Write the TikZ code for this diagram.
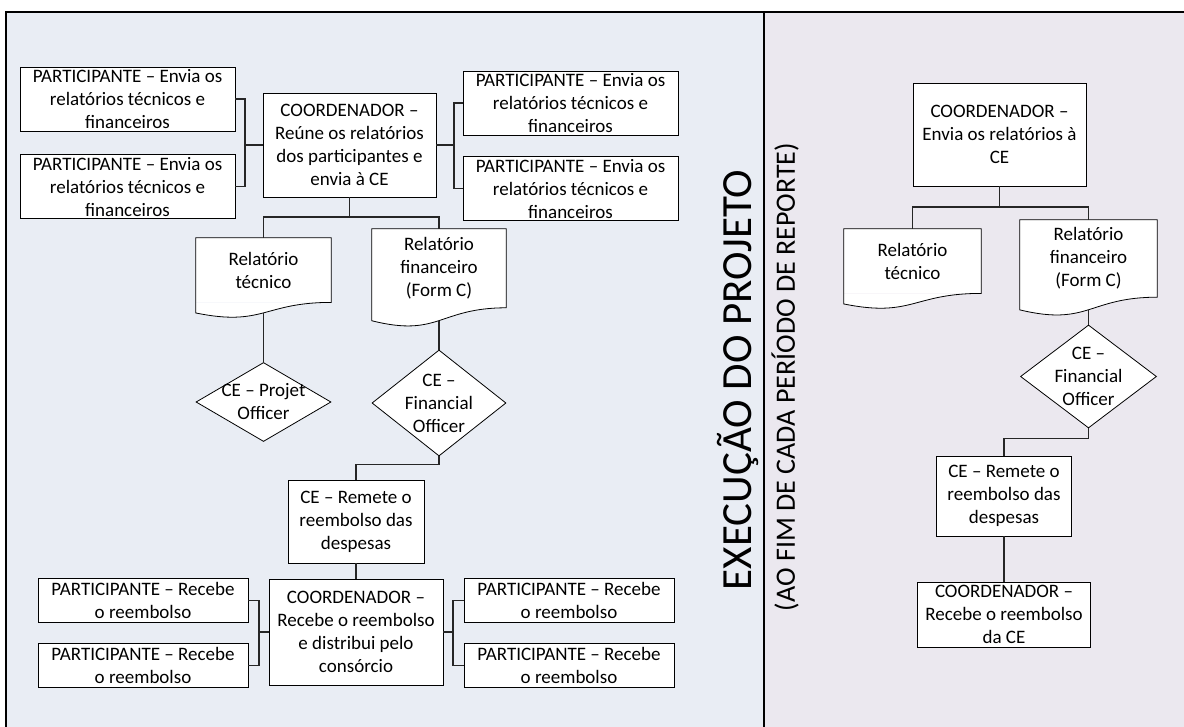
\documentclass[tikz,border=0pt]{standalone}
\usepackage{fontspec}
\setmainfont{Carlito}
\usepackage{tikz}
\usetikzlibrary{positioning, shapes.geometric, calc}

\definecolor{leftbg}{RGB}{233,237,244}
\definecolor{rightbg}{RGB}{235,232,239}
\newcommand{\boxfont}{\fontsize{19}{23}\selectfont}

\begin{document}
\begin{tikzpicture}[x=1pt, y=-1pt,
    every node/.style={font=\boxfont},
    box/.style={rectangle, draw, fill=white, align=center, inner sep=0pt, line width=0.8pt},
    part/.style={box, minimum width=215pt, minimum height=64pt},
    recv/.style={box, minimum width=210pt, minimum height=44pt},
    doc/.style={rectangle, fill=white, align=center, inner sep=0pt},
    diam/.style={diamond, draw, fill=white, inner sep=0pt, line width=0.8pt},
    txt/.style={align=center, inner sep=0pt},
    link/.style={draw=black!85, line width=1.1pt},
    frame/.style={line width=1.4pt}
    ]
    \useasboundingbox (0,0) rectangle (1184,727);
    \fill[leftbg] (6,12) rectangle (764,727);
    \fill[rightbg] (764,12) rectangle (1184,727);
    \draw[frame] (6,727) -- (6,12) -- (1184,12);
    \draw[frame] (764,12) -- (764,727);

    % titulo
    \node[rotate=90, font=\fontsize{43}{50}\selectfont] (titulo) at (738,380) {EXECUÇÃO DO PROJETO};
    \node[rotate=90, font=\fontsize{28}{33}\selectfont] (periodo) at (785,377) {(AO FIM DE CADA PERÍODO DE REPORTE)};

    % consorcio: envio dos relatorios
    \node[box, minimum width=173pt, minimum height=104pt] (coordA) at (349.5,145) {COORDENADOR –\\Reúne os relatórios\\dos participantes e\\envia à CE};
    \node[part] (pA) at (127.5,99) {PARTICIPANTE – Envia os\\relatórios técnicos e\\financeiros};
    \node[part, below=23pt of pA] (pB) {PARTICIPANTE – Envia os\\relatórios técnicos e\\financeiros};
    \node[part] (pC) at (570.5,103) {PARTICIPANTE – Envia os\\relatórios técnicos e\\financeiros};
    \node[part, below=21pt of pC] (pD) {PARTICIPANTE – Envia os\\relatórios técnicos e\\financeiros};

    \node[doc, minimum width=135pt, minimum height=64.2pt] (tecA) at (263.5,270.1) {Relatório\\técnico};
    \node[doc, minimum width=134pt, minimum height=78.6pt] (finA) at (439,268.3) {Relatório\\financeiro\\(Form C)};
    \node[diam, minimum width=135pt, minimum height=79pt] (poA) at (263.5,402) {};
    \node[txt] (poAt) at (poA) {CE – Projet\\Officer};
    \node[diam, minimum width=134pt, minimum height=106pt] (foA) at (439,403) {};
    \node[txt] (foAt) at (foA) {CE –\\Financial\\Officer};

    % consorcio: reembolso
    \node[box, minimum width=136pt, minimum height=83pt] (remA) at (356,521.5) {CE – Remete o\\reembolso das\\despesas};
    \node[box, minimum width=174pt, minimum height=106pt] (coordB) at (356,632) {COORDENADOR –\\Recebe o reembolso\\e distribui pelo\\consórcio};
    \node[recv] (prA) at (143,600.5) {PARTICIPANTE – Recebe\\o reembolso};
    \node[recv, below=20pt of prA] (prB) {PARTICIPANTE – Recebe\\o reembolso};
    \node[recv] (prC) at (569,600.5) {PARTICIPANTE – Recebe\\o reembolso};
    \node[recv, below=20pt of prC] (prD) {PARTICIPANTE – Recebe\\o reembolso};

    % beneficiario unico
    \node[box, minimum width=173pt, minimum height=103pt] (coordC) at (999.5,134.5) {COORDENADOR –\\Envia os relatórios à\\CE};
    \node[doc, minimum width=137pt, minimum height=64.2pt] (tecB) at (912.5,261.1) {Relatório\\técnico};
    \node[doc, minimum width=137pt, minimum height=77pt] (finB) at (1088.5,258.5) {Relatório\\financeiro\\(Form C)};
    \node[diam, minimum width=136pt, minimum height=103pt] (foB) at (1088.5,376.5) {};
    \node[txt] (foBt) at (foB) {CE –\\Financial\\Officer};
    \node[box, minimum width=135pt, minimum height=80pt] (remB) at (1004,496) {CE – Remete o\\reembolso das\\despesas};
    \node[box, minimum width=173pt, minimum height=65pt] (coordD) at (1004,614.5) {COORDENADOR –\\Recebe o reembolso\\da CE};

    % contorno dos documentos
    \foreach \d/\h in {tecA/80, finA/98, tecB/80, finB/96} {
      \fill[white] (\d.south east) .. controls (\d.south) and ($(\d.south)+(0,0.305*\h)$) .. ($(\d.south west)+(0,0.132*\h)$) -- (\d.south west) -- cycle;
      \draw[line width=0.8pt] (\d.north west) -- (\d.north east) -- (\d.south east) .. controls (\d.south) and ($(\d.south)+(0,0.305*\h)$) .. ($(\d.south west)+(0,0.132*\h)$) -- cycle;
    }

    \coordinate (jA) at (349.5,217);
    \coordinate (jC) at (999.5,207);
    \coordinate (brA) at (245,145);
    \coordinate (brB) at (454,145);
    \coordinate (brC) at (259,632);
    \coordinate (brD) at (453,632);
    \coordinate (tecAb) at ($(tecA.south)+(0,10.5)$);
    \coordinate (finAb) at ($(finA.south)+(0,12.8)$);
    \coordinate (finBb) at ($(finB.south)+(0,12.6)$);

    \draw[link] (pA.east) -| (brA) |- (pB.east);
    \draw[link] (brA) -- (coordA.west);
    \draw[link] (pC.west) -| (brB) |- (pD.west);
    \draw[link] (brB) -- (coordA.east);
    \draw[link] (coordA.south) -- (jA);
    \draw[link] (tecA.north) |- (jA) -| (finA.north);
    \draw[link] (tecAb) -- (poA.north);
    \draw[link] (finAb) -- (foA.north);
    \draw[link] (foA.south) -- ++(0,8) -| (remA.north);
    \draw[link] (remA.south) -- (coordB.north);
    \draw[link] (prA.east) -| (brC) |- (prB.east);
    \draw[link] (brC) -- (coordB.west);
    \draw[link] (prC.west) -| (brD) |- (prD.west);
    \draw[link] (brD) -- (coordB.east);

    \draw[link] (coordC.south) -- (jC);
    \draw[link] (tecB.north) |- (jC) -| (finB.north);
    \draw[link] (finBb) -- (foB.north);
    \draw[link] (foB.south) -- ++(0,10) -| (remB.north);
    \draw[link] (remB.south) -- (coordD.north);
  \end{tikzpicture}
\end{document}
